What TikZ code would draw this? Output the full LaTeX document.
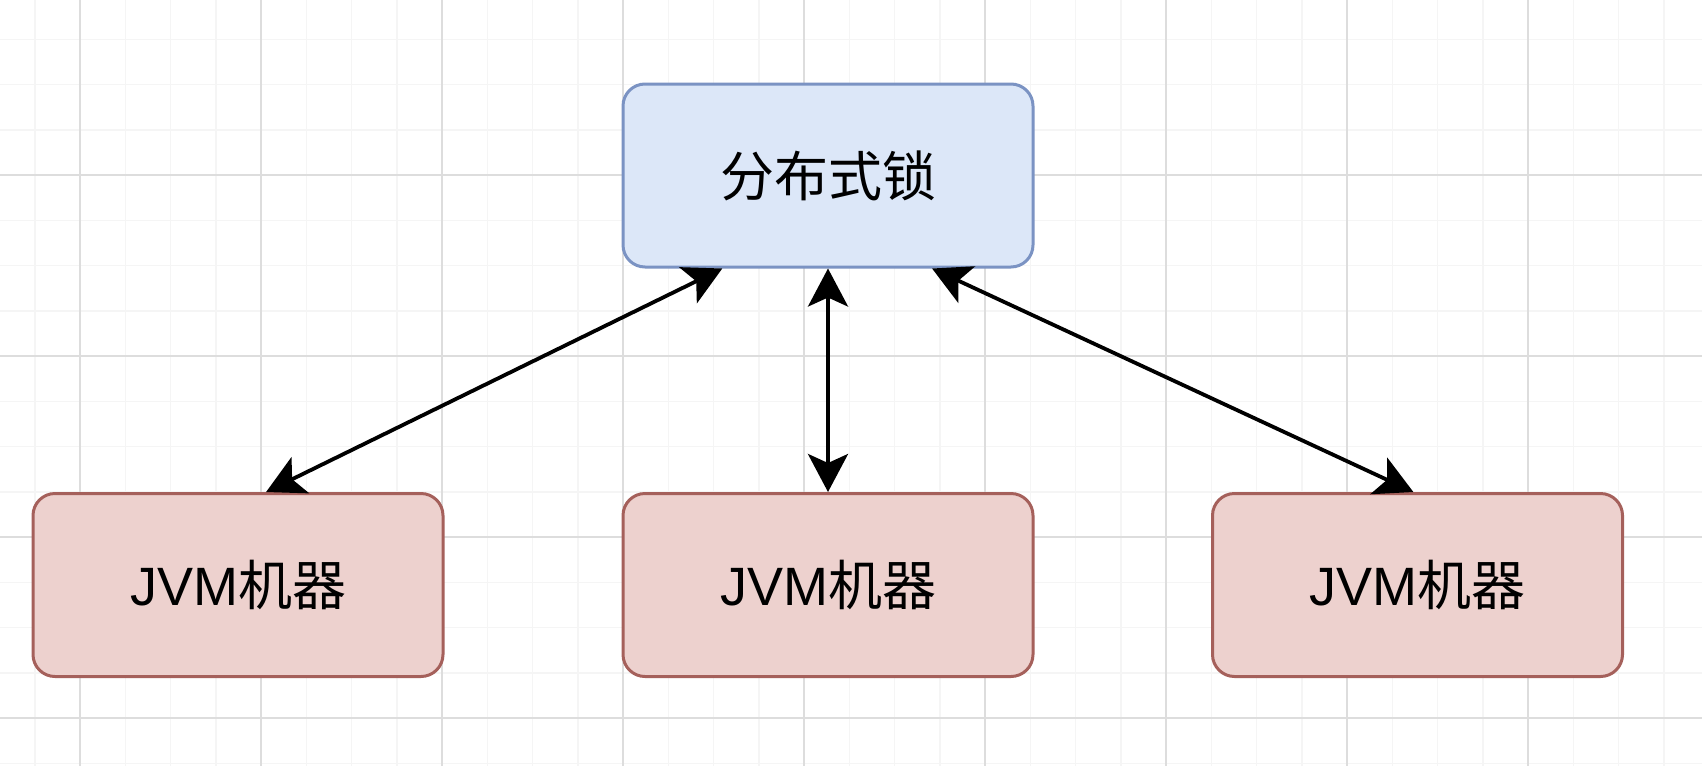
\documentclass[tikz,border=0pt]{standalone}
\usepackage{fontspec}
\setmainfont{Liberation Sans}
\newfontfamily\cjk{Noto Sans CJK SC}
\usetikzlibrary{arrows.meta,calc}
\definecolor{gridminor}{HTML}{F5F5F5}
\definecolor{gridmajor}{HTML}{DDDDDD}
\definecolor{lockfill}{HTML}{DCE7F8}
\definecolor{lockdraw}{HTML}{7B93C3}
\definecolor{jvmfill}{HTML}{EDD1CE}
\definecolor{jvmdraw}{HTML}{A5605B}
\begin{document}
\begin{tikzpicture}[x=1pt,y=-1pt,
  box/.style={draw, line width=3pt, rounded corners=22pt, minimum width=410pt, minimum height=183pt, inner sep=0pt, font=\fontsize{54}{62}\selectfont, text=black},
  lockbox/.style={box, fill=lockfill, draw=lockdraw},
  jvmbox/.style={box, fill=jvmfill, draw=jvmdraw},
  link/.style={line width=3.8pt, {Stealth[length=38pt,width=40pt,inset=9pt]}-{Stealth[length=38pt,width=40pt,inset=9pt]}},
  minorline/.style={draw=gridminor, line width=1.5pt},
  majorline/.style={draw=gridmajor, line width=2pt}]
\useasboundingbox[fill=white] (0,0) rectangle (1702,766);
% grid
\foreach \i in {-1,...,36} {
  \draw[minorline] (80+45.25*\i,0) -- (80+45.25*\i,766);
}
\foreach \i in {-4,...,14} {
  \draw[minorline] (0,175+45.25*\i) -- (1702,175+45.25*\i);
}
\foreach \i in {0,...,9} {
  \draw[majorline] (80+181*\i,0) -- (80+181*\i,766);
}
\foreach \i in {0,...,3} {
  \draw[majorline] (0,175+181*\i) -- (1702,175+181*\i);
}
% nodes
\node[lockbox] (lock) at (828,175.5) {\cjk 分布式锁};
\node[jvmbox] (jvm1) at (238,585) {JVM\cjk 机器};
\node[jvmbox] (jvm2) at (828,585) {JVM\cjk 机器};
\node[jvmbox] (jvm3) at (1417.5,585) {JVM\cjk 机器};
% connectors
\draw[link] ($(jvm1.north west)!0.568!(jvm1.north east)$) -- ($(lock.south west)!0.244!(lock.south east)$);
\draw[link] (jvm2.north) -- (lock.south);
\draw[link] ($(jvm3.north west)!0.49!(jvm3.north east)$) -- ($(lock.south west)!0.752!(lock.south east)$);
\end{tikzpicture}
\end{document}
